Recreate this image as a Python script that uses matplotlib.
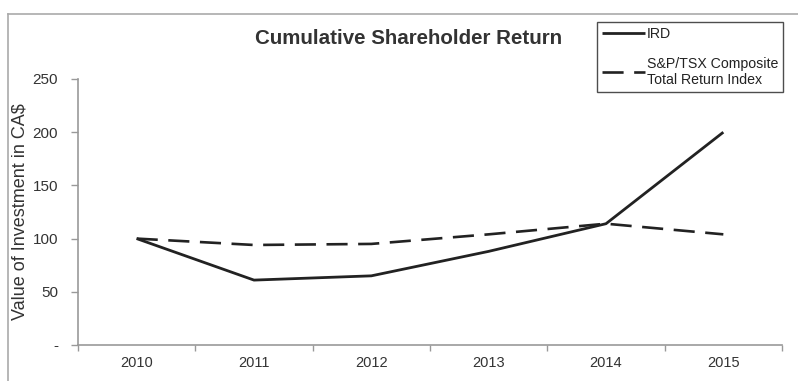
import matplotlib
matplotlib.use("Agg")
import matplotlib.pyplot as plt
from matplotlib.lines import Line2D
import numpy as np

years = ["2010", "2011", "2012", "2013", "2014", "2015"]
ird = [100, 61, 65, 88, 114, 200]
tsx = [100, 94, 95, 104, 114, 104]
yticks = [0, 50, 100, 150, 200, 250]
ytick_labels = ["-", "50", "100", "150", "200", "250"]

plt.rcParams['font.family'] = ['Liberation Sans', 'DejaVu Sans']

fig = plt.figure(figsize=(7.98, 3.81), dpi=100)
W, H = 798, 381
ax = fig.add_axes([78 / W, 1 - 345 / H, (782 - 78) / W, (345 - 79) / H])

x = np.arange(len(years))
ax.plot(x, ird, color="#222222", lw=2.0, solid_capstyle="butt", label="IRD")
ax.plot(x, tsx, color="#222222", lw=1.9, linestyle=(0, (8, 4)),
        label="S&P/TSX Composite\nTotal Return Index")

ax.set_xlim(-0.5, len(years) - 0.5)
ax.set_ylim(0, 250)
ax.set_yticks(yticks)
ax.set_yticklabels(ytick_labels)
ax.set_xticks(x)
ax.set_xticklabels(years)
ax.set_xticks(np.arange(-0.5, len(years)), minor=True)
ax.tick_params(axis="x", which="major", length=0, pad=8, labelsize=10.5, labelcolor="#333333")
ax.tick_params(axis="x", which="minor", length=4, color="#999999", width=1)
ax.tick_params(axis="y", length=5, color="#999999", width=1, pad=9.4, labelsize=11, labelcolor="#333333")

for s in ["top", "right"]:
    ax.spines[s].set_visible(False)
for s in ["left", "bottom"]:
    ax.spines[s].set_color("#999999")
    ax.spines[s].set_linewidth(1.2)

ax.set_ylabel("Value of Investment in CA$", fontsize=13, color="#333333", va="center")
ax.yaxis.set_label_coords((20 - 78) / (782 - 78), 0.5)

fig.text(409 / W, 1 - 38 / H, "Cumulative Shareholder Return", ha="center", va="center",
         fontsize=14.8, fontweight="bold", color="#333333")

leg = fig.legend(loc="upper right", bbox_to_anchor=(783 / W, 1 - 22 / H),
                 frameon=True, fancybox=False, fontsize=10.2, handlelength=3.0,
                 borderaxespad=0, labelspacing=1.1, handletextpad=0.15,
                 borderpad=0.35)
leg.get_frame().set_edgecolor("#222222")
leg.get_frame().set_linewidth(1.0)
for t in leg.get_texts():
    t.set_color("#222222")

# outer frame (left and top edges visible)
fig.add_artist(Line2D([8 / W, 8 / W], [0, 1 - 14 / H], transform=fig.transFigure,
                      color="#aaaaaa", lw=1.2))
fig.add_artist(Line2D([8 / W, 1], [1 - 14 / H, 1 - 14 / H], transform=fig.transFigure,
                      color="#aaaaaa", lw=1.2))

fig.savefig("out.png", dpi=100)
